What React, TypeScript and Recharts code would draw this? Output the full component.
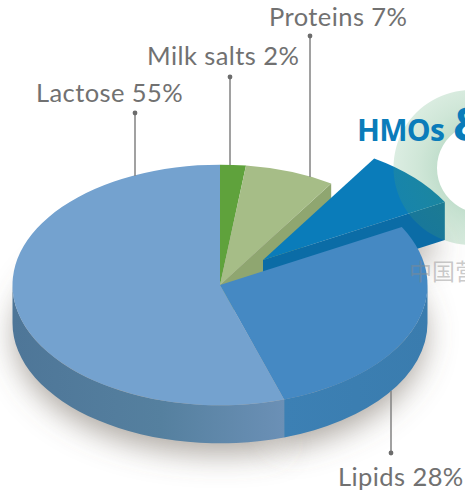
/* Milk composition – exploded 3D-look pie, Recharts sectors redrawn as ellipses */
import { PieChart, Pie } from "recharts";

const components = ["Milk salts", "Proteins", "HMOs", "Lipids", "Lactose"];
const shares = [2, 7, 8, 28, 55];

const rows = components.map((name, i) => ({ name, value: shares[i] }));

/* flatten + extrude */
const RX = 207.5;
const TILT = 0.58;
const DEPTH = 38;

const topColors: Record<string, string> = {
  "Milk salts": "#5fa23c",
  Proteins: "#a6bd87",
  HMOs: "#0a7cba",
  Lipids: "#4589c3",
  Lactose: "#74a2cf",
};

const wallColors: Record<string, string> = {
  Proteins: "#8fa670",
  HMOs: "#0b6ca6",
  Lipids: "url(#lipidsWall)",
  Lactose: "url(#lactoseWall)",
};

/* HMOs slice is pulled out of the pie */
const shifts: Record<string, [number, number]> = { HMOs: [43, -25] };

/* leader line and caption for the labelled slices */
const captions: Record<string, { x: number; y1: number; y2: number; tx: number; ty: number; text: string }> = {
  Lactose: { x: 135, y1: 113, y2: 176, tx: 36, ty: 102, text: "Lactose 55%" },
  "Milk salts": { x: 230, y1: 77, y2: 165, tx: 147, ty: 65, text: "Milk salts 2%" },
  Proteins: { x: 310, y1: 36, y2: 177, tx: 269, ty: 26, text: "Proteins 7%" },
  Lipids: { x: 391, y1: 453, y2: 391, tx: 338, ty: 486, text: "Lipids 28%" },
};

const rad = (a: number) => (a * Math.PI) / 180;
const ptOn = (cx: number, cy: number, r: number, a: number) => [
  cx + r * Math.cos(rad(a)),
  cy - r * TILT * Math.sin(rad(a)),
];

function TopFace(p: any) {
  const name = p.payload?.name ?? p.name;
  const [dx, dy] = shifts[name] ?? [0, 0];
  const cx = p.cx + dx;
  const cy = p.cy + dy;
  const r = p.outerRadius;
  const [x0, y0] = ptOn(cx, cy, r, p.startAngle);
  const [x1, y1] = ptOn(cx, cy, r, p.endAngle);
  const large = Math.abs(p.startAngle - p.endAngle) > 180 ? 1 : 0;
  return (
    <path
      d={`M${cx},${cy}L${x0},${y0}A${r},${r * TILT} 0 ${large} 1 ${x1},${y1}Z`}
      fill={topColors[name]}
    />
  );
}

function Wall(p: any) {
  const name = p.payload?.name ?? p.name;
  const fill = wallColors[name];
  if (!fill) return <g />;
  const [dx, dy] = shifts[name] ?? [0, 0];
  const cx = p.cx + dx;
  const cy = p.cy + dy;
  const r = p.outerRadius;

  // rim is only seen on the front half of the ellipse
  const from = Math.min(p.startAngle, 0);
  const to = Math.max(p.endAngle, -180);
  if (from > to) {
    const [x0, y0] = ptOn(cx, cy, r, from);
    const [x1, y1] = ptOn(cx, cy, r, to);
    return (
      <path
        d={`M${x0},${y0}A${r},${r * TILT} 0 0 1 ${x1},${y1}L${x1},${y1 + DEPTH}A${r},${r * TILT} 0 0 0 ${x0},${y0 + DEPTH}Z`}
        fill={fill}
      />
    );
  }

  // cut face along the trailing edge
  const [x1, y1] = ptOn(cx, cy, r, p.endAngle);
  return <path d={`M${cx},${cy}L${x1},${y1}V${y1 + DEPTH}L${cx},${cy + DEPTH}Z`} fill={fill} />;
}

function Shadow(p: any) {
  const name = p.payload?.name ?? p.name;
  const [dx, dy] = shifts[name] ?? [0, 0];
  const cx = p.cx + dx;
  const cy = p.cy + dy + 50;
  const r = p.outerRadius - 2;
  const [x0, y0] = ptOn(cx, cy, r, p.startAngle);
  const [x1, y1] = ptOn(cx, cy, r, p.endAngle);
  const large = Math.abs(p.startAngle - p.endAngle) > 180 ? 1 : 0;
  return (
    <path
      d={`M${cx},${cy}L${x0},${y0}A${r},${r * TILT} 0 ${large} 1 ${x1},${y1}Z`}
      fill="#6b6258"
      fillOpacity={0.55}
      filter="url(#softShadow)"
    />
  );
}

function Caption(p: any) {
  const c = captions[p.payload?.name ?? p.name];
  if (!c) return <g />;
  return (
    <g>
      <line x1={c.x} x2={c.x} y1={c.y1} y2={c.y2} stroke="#828282" strokeWidth={1.5} />
      <circle cx={c.x} cy={c.y1} r={2.4} fill="#6c6c6c" />
      <text
        x={c.tx}
        y={c.ty}
        fontFamily="Lato, sans-serif"
        fontSize={25.5}
        letterSpacing={0.42}
        fill="#717171"
        textAnchor="start"
      >
        {c.text}
      </text>
    </g>
  );
}

const pieProps = {
  data: rows,
  dataKey: "value",
  nameKey: "name",
  cx: 220,
  cy: 285,
  outerRadius: RX,
  startAngle: 90,
  endAngle: -270,
  stroke: "none",
  isAnimationActive: false,
};

export default function App() {
  return (
    <div style={{ position: "absolute", left: 0, top: 0, width: 465, height: 492, background: "#fff", overflow: "hidden" }}>
      <PieChart width={465} height={492} margin={{ top: 0, right: 0, bottom: 0, left: 0 }}>
        <defs>
          <linearGradient id="lactoseWall" x1="0" x2="1" y1="0" y2="0">
            <stop offset="0" stopColor="#4e7698" />
            <stop offset="0.55" stopColor="#55809f" />
            <stop offset="1" stopColor="#6b90b6" />
          </linearGradient>
          <linearGradient id="lipidsWall" x1="0" x2="1" y1="0" y2="0">
            <stop offset="0" stopColor="#3c80b4" />
            <stop offset="1" stopColor="#3a7cae" />
          </linearGradient>
          <filter id="softShadow" x="-30%" y="-30%" width="160%" height="160%">
            <feGaussianBlur stdDeviation="15" />
          </filter>
        </defs>

        <Pie {...pieProps} shape={Shadow} />
        <Pie {...pieProps} shape={Wall} />
        <Pie {...pieProps} shape={TopFace} label={Caption} labelLine={false} />
      </PieChart>

      {/* backdrop ring and heading sit over the pulled-out slice */}
      <svg width={465} height={492} style={{ position: "absolute", left: 0, top: 0, pointerEvents: "none" }}>
        <defs>
          <radialGradient id="ringFill" gradientUnits="userSpaceOnUse" cx="482" cy="168" r="88">
            <stop offset="0.5" stopColor="#3f9a62" stopOpacity={0.32} />
            <stop offset="0.72" stopColor="#47a066" stopOpacity={0.26} />
            <stop offset="1" stopColor="#4da56c" stopOpacity={0.2} />
          </radialGradient>
        </defs>
        <path
          d="M471,90a77.5,77.5 0 1,0 0.01,0ZM482,123a45,45 0 1,1 -0.01,0Z"
          fill="url(#ringFill)"
          fillRule="evenodd"
        />
        <text x={357} y={141} fontFamily="'Open Sans', sans-serif" fontWeight={700} fontSize={30} letterSpacing={-0.7} fill="#0a7cba">
          HMOs
          <tspan x={453} fontSize={46}>&amp;</tspan>
        </text>
        <text x={409} y={280} fontFamily="'Noto Sans CJK SC', sans-serif" fontSize={23} fill="#8a8a8a" fillOpacity={0.45}>
          中国营养
        </text>
      </svg>
    </div>
  );
}
